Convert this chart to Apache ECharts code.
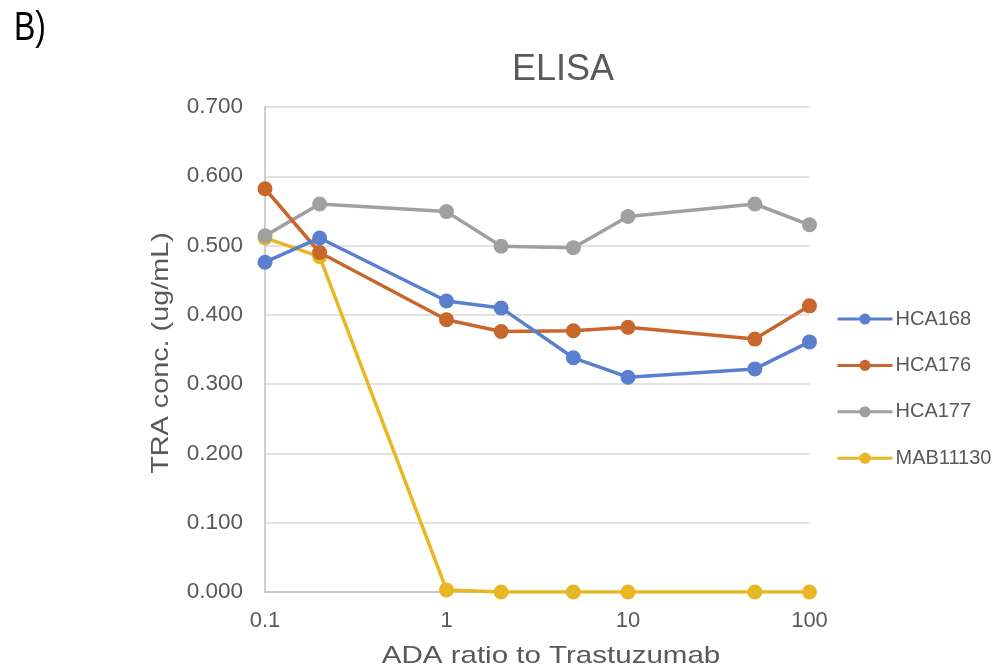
<!DOCTYPE html>
<html>
<head>
<meta charset="utf-8">
<script src="https://cdn.jsdelivr.net/npm/echarts@6/dist/echarts.min.js"></script>
<style>
html,body{margin:0;padding:0;background:#fff;}
#c{width:997px;height:669px;}
</style>
</head>
<body>
<div id="c"></div>
<script>
const ratios = [0.1, 0.2, 1, 2, 5, 10, 50, 100];
const seriesNames = ['HCA168', 'HCA176', 'HCA177', 'MAB11130'];
const hca168 = [0.476, 0.511, 0.420, 0.410, 0.338, 0.310, 0.322, 0.361];
const hca176 = [0.582, 0.490, 0.393, 0.376, 0.377, 0.382, 0.365, 0.413];
const hca177 = [0.514, 0.560, 0.549, 0.499, 0.497, 0.542, 0.560, 0.530];
const mab11130 = [0.511, 0.484, 0.003, 0.000, 0.000, 0.000, 0.000, 0.000];
const colors = ['#5B7FCF', '#C8672C', '#A0A0A0', '#E7B823'];
const chartTitle = 'ELISA';
const panelLabel = 'B)';
const xName = 'ADA ratio to Trastuzumab';
const yName = 'TRA conc. (ug/mL)';

const allValues = [hca168, hca176, hca177, mab11130];
const FONT = '"Liberation Sans", Arial, sans-serif';

const chart = echarts.init(document.getElementById('c'), null, {renderer: 'canvas'});
chart.setOption({
  backgroundColor: '#fff',
  animation: false,
  textStyle: {fontFamily: FONT},
  title: {
    text: chartTitle,
    left: 558, top: 47, textAlign: 'center',
    textStyle: {fontSize: 36, fontWeight: 'normal', color: '#595959', fontFamily: FONT}
  },
  graphic: [{
    type: 'text', x: 14, y: 29, scaleX: 0.8,
    style: {text: panelLabel, font: '40px "Liberation Sans", Arial, sans-serif', fill: '#000',
      align: 'left', verticalAlign: 'middle'}
  }, {
    type: 'text', x: 161, y: 353, rotation: Math.PI / 2, scaleX: 1.2,
    style: {text: yName, font: '24px "Liberation Sans", Arial, sans-serif', fill: '#595959',
      align: 'center', verticalAlign: 'middle'}
  }, {
    type: 'text', x: 551, y: 656, scaleX: 1.23,
    style: {text: xName, font: '24px "Liberation Sans", Arial, sans-serif', fill: '#595959',
      align: 'center', verticalAlign: 'middle'}
  }],
  grid: {left: 265, right: 187.5, top: 107, bottom: 77, containLabel: false},
  legend: {
    orient: 'vertical',
    left: 831, top: 304,
    itemWidth: 55, itemHeight: 14, itemGap: 26.4,
    lineStyle: {width: 3},
    textStyle: {fontSize: 20, color: '#595959', fontFamily: FONT, lineHeight: 20, padding: [0,0,0,-2]},
    data: seriesNames
  },
  xAxis: {
    type: 'log', logBase: 10, min: 0.1, max: 100,
    axisLine: {show: true, lineStyle: {color: '#bfbfbf', width: 1.5}},
    axisTick: {show: false},
    splitLine: {show: false},
    minorTick: {show: false},
    axisLabel: {fontSize: 22, color: '#595959', margin: 18, fontFamily: FONT,
      formatter: v => String(Math.round(v * 10) / 10)}
  },
  yAxis: {
    type: 'value', min: 0, max: 0.7, interval: 0.1,
    axisLine: {show: true, lineStyle: {color: '#bfbfbf', width: 1.5}},
    axisTick: {show: false},
    splitLine: {show: true, lineStyle: {color: '#d9d9d9', width: 1.5}},
    axisLabel: {fontSize: 22.5, color: '#595959', margin: 22, fontFamily: FONT,
      formatter: v => v.toFixed(3)}
  },
  series: seriesNames.map((n, i) => ({
    name: n,
    type: 'line',
    data: ratios.map((x, j) => [x, allValues[i][j]]),
    symbol: 'circle', symbolSize: 15,
    lineStyle: {color: colors[i], width: 3.5},
    itemStyle: {color: colors[i]},
    z: 10 - i
  }))
});
</script>
</body>
</html>
